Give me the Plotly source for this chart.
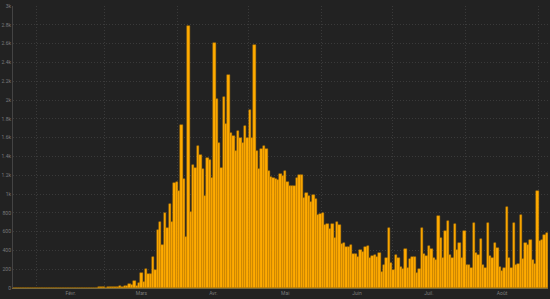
import pandas as pd
import plotly.graph_objects as go

# Daily values, 2020-01-22 .. 2020-09-04
jan = [0, 0, 0, 0, 0, 0, 0, 0, 0, 3]
feb = [0, 0, 0, 0, 0, 0, 3, 0, 0, 0, 0, 0, 0, 0, 0, 0, 0, 0, 0, 0,
       0, 0, 0, 0, 2, 5, 8, 10, 8]
mar = [5, 8, 6, 10, 12, 15, 20, 15, 25, 20, 40, 30, 75, 20, 50, 163, 67, 200, 149, 149,
       333, 191, 616, 705, 457, 797, 641, 893, 705, 1119, 1130]
apr = [1034, 1729, 1155, 545, 2784, 811, 1311, 1272, 1516, 1410, 1261, 981, 1378, 1357, 1172,
       2607, 2012, 1544, 1279, 2030, 1746, 2267, 1644, 1622, 1459, 1665, 1591, 1538, 1722, 1601]
may = [1892, 1591, 2582, 1459, 1261, 1484, 1509, 1484, 1247, 1176, 1173, 1162, 1151, 1215, 1190,
       1247, 1126, 1084, 1084, 1084, 1166, 1201, 1201, 956, 1010, 974, 914, 985, 950, 772, 786]
jun = [800, 669, 676, 631, 680, 531, 701, 669, 464, 478, 439, 439, 453, 361, 361, 326, 404, 386,
       436, 446, 315, 340, 351, 326, 375, 167, 244, 315, 638, 262]
jul = [191, 351, 315, 220, 205, 418, 209, 312, 326, 329, 163, 202, 634, 361, 344, 446, 414, 315,
       298, 768, 535, 315, 609, 715, 351, 322, 680, 404, 482, 322, 606]
aug = [244, 244, 209, 687, 375, 351, 517, 244, 216, 687, 340, 315, 475, 429, 220, 181, 209, 865,
       322, 216, 694, 244, 255, 776, 308, 475, 457, 510, 298, 251, 1031]
sep = [505, 515, 560, 585]

values = jan + feb + mar + apr + may + jun + jul + aug + sep
dates = pd.date_range("2020-01-22", periods=len(values), freq="D")

month_starts = pd.date_range("2020-02-01", "2020-09-01", freq="MS")
month_labels = ["Févr.", "Mars", "Avr.", "Mai", "Juin", "Juil.", "Août"]
month_mids = [month_starts[i] + (month_starts[i + 1] - month_starts[i]) / 2
              for i in range(len(month_labels))]

fig = go.Figure(go.Bar(
    x=dates, y=values,
    xperiod=86400000, xperiodalignment="middle",
    marker=dict(color="#ffab00", line=dict(color="#c08000", width=0.45)),
))

bg = "#222222"
grid = "#3a3a3a"
fig.update_layout(
    width=550, height=299,
    margin=dict(l=13, r=2, t=6, b=11),
    paper_bgcolor=bg, plot_bgcolor=bg,
    bargap=0, showlegend=False,
    font=dict(family="Roboto", size=5, color="#7a7a7a"),
)
fig.update_xaxes(
    range=["2020-01-22", "2020-09-05"],
    tickmode="array", tickvals=month_mids, ticktext=month_labels,
    ticks="", showgrid=False, zeroline=False,
    showline=True, linecolor="#7a6a3a", linewidth=1,
    tickfont=dict(size=5, color="#7a7a7a"),
    minor=dict(tickmode="array", tickvals=list(month_starts), showgrid=True,
               gridcolor=grid, griddash="1px,2px", gridwidth=1, ticks=""),
)
fig.update_yaxes(
    range=[0, 3000], dtick=200, tickformat="~s",
    showgrid=True, gridcolor=grid, griddash="1px,2px", gridwidth=1,
    zeroline=False, showline=True, linecolor="#444444", linewidth=1,
    ticks="", tickfont=dict(size=5, color="#7a7a7a"),
)

fig.write_html("out.html")
